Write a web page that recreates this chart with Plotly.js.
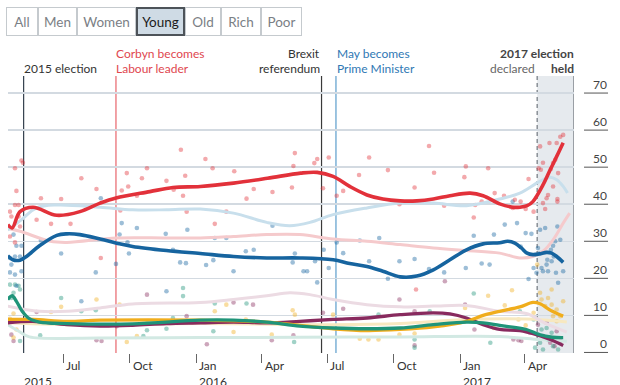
<!DOCTYPE html>
<html><head><meta charset="utf-8">
<script src="https://cdn.plot.ly/plotly-3.0.1.min.js"></script>
<style>html,body{margin:0;padding:0;background:#fff}#chart{width:620px;height:385px}</style>
</head><body><div id="chart"></div>
<script>
// ---------- trend lines (young voters) ----------
const labDates = ['2015-04-15','2015-04-21','2015-05-02','2015-05-20','2015-06-22','2015-07-24','2015-08-21','2015-09-12','2015-10-29','2015-11-30','2016-01-07','2016-02-22','2016-04-09','2016-05-25','2016-06-17','2016-07-09','2016-08-01','2016-08-25','2016-09-16','2016-10-10','2016-11-02','2016-11-25','2016-12-18','2017-01-15','2017-02-02','2017-02-25','2017-03-15','2017-03-25','2017-04-04','2017-04-12','2017-04-26','2017-05-06','2017-05-15','2017-05-24'];
const labVals = [34.5,33.6,38,39.2,37,38,40.3,41.7,43.4,44.5,44.8,45.7,47,48.4,48.6,47.5,44.8,42.5,41.4,40.9,40.9,41.4,42.3,43,42.3,40.1,39.2,39.2,39.6,40.7,45.2,49.3,52.9,56.6];

const conDates = ['2015-04-15','2015-04-22','2015-05-02','2015-05-11','2015-05-29','2015-06-22','2015-07-06','2015-07-24','2015-08-21','2015-09-13','2015-10-05','2015-11-21','2016-01-07','2016-02-22','2016-04-08','2016-05-24','2016-07-09','2016-08-01','2016-08-25','2016-09-16','2016-10-10','2016-11-02','2016-11-25','2016-12-18','2017-01-10','2017-02-02','2017-02-25','2017-03-08','2017-03-18','2017-03-27','2017-04-04','2017-04-12','2017-04-21','2017-05-01','2017-05-08','2017-05-15','2017-05-24'];
const conVals = [26.1,25,24.9,25.9,28.8,31.6,32,31.8,30.6,29.5,28.6,27.5,26.7,25.9,25.5,25.5,25,24,23.2,21.9,20.4,20.6,22.3,25,27.7,29.3,29.6,30,29.5,28.2,26.8,26.4,26.6,27,26.8,25.9,24.3];

const ldDates = ['2015-04-15','2015-05-20','2015-07-06','2015-08-21','2016-01-07','2016-04-08','2016-05-24','2016-07-09','2016-08-25','2016-10-10','2016-11-25','2017-01-10','2017-02-02','2017-02-25','2017-03-25','2017-04-12','2017-04-21','2017-05-09','2017-05-24'];
const ldVals = [8.9,8.9,8.4,8.7,8.7,8.2,7.3,6.4,5.9,6.2,6.9,8.4,10,11.1,12.3,13.5,13.2,11.1,9.8];

const grnDates = ['2015-04-15','2015-04-21','2015-04-27','2015-05-05','2015-05-15','2015-05-29','2015-07-06','2015-10-05','2016-01-07','2016-02-22','2016-04-08','2016-05-24','2016-07-09','2016-08-25','2016-10-10','2016-11-25','2017-01-10','2017-02-02','2017-02-25','2017-04-03','2017-04-21','2017-05-09','2017-05-24'];
const grnVals = [14.3,15.3,13.8,11.1,9.1,8.2,7.8,7.7,8.7,8.7,8.2,7.1,6.6,6.4,6.6,7.5,8.2,8,7.3,6.2,4.8,4.1,4];

const ukipDates = ['2015-04-15','2015-05-20','2015-07-06','2015-08-21','2015-10-05','2015-11-21','2016-01-07','2016-02-22','2016-04-08','2016-05-24','2016-07-09','2016-08-25','2016-10-10','2016-11-25','2016-12-18','2017-01-10','2017-02-02','2017-02-25','2017-03-25','2017-04-17','2017-05-06','2017-05-24'];
const ukipVals = [8,8.4,7.5,7.1,7.3,7.8,8,8.2,8,8.4,8.9,9.3,10.2,10.7,10.4,9.3,7.5,6.2,5.9,4.8,3.5,1.9];

// ---------- faded trend lines (all voters) ----------
const conAllDates = ['2015-04-15','2015-05-02','2015-05-25','2015-06-22','2015-08-21','2015-10-05','2015-11-21','2016-01-07','2016-02-22','2016-04-08','2016-05-10','2016-06-07','2016-07-09','2016-08-25','2016-10-10','2016-11-25','2017-01-10','2017-02-25','2017-03-25','2017-04-21','2017-05-06','2017-05-15','2017-05-24','2017-05-30'];
const conAllVals = [33,35.5,39,39.8,39.2,38.5,38.5,38.7,37.6,35.1,34.2,35.1,37.2,39,40.3,40.3,39.6,41.4,43,46.1,47.3,46.6,44.8,43];
const labAllDates = ['2015-04-15','2015-05-02','2015-06-13','2015-07-06','2015-09-13','2015-11-21','2016-01-07','2016-02-22','2016-04-08','2016-05-24','2016-07-09','2016-08-25','2016-10-10','2016-11-25','2017-01-10','2017-02-25','2017-03-25','2017-04-12','2017-04-26','2017-05-10','2017-05-24','2017-06-02'];
const labAllVals = [33.5,32.7,30,29.7,30.9,30.9,30.9,31.3,31.8,31.8,30.6,30,29.1,28.2,27.5,26.8,25.5,25.9,27.3,30.4,34.9,37.6];
const ukipAllDates = ['2015-04-15','2015-05-29','2015-07-06','2015-08-21','2015-10-05','2016-01-07','2016-02-22','2016-04-08','2016-05-10','2016-06-07','2016-07-09','2016-08-25','2016-10-10','2016-11-25','2017-01-10','2017-02-25','2017-04-03','2017-04-28','2017-05-29'];
const ukipAllVals = [12.5,11.1,11.1,12,13.1,13.5,14.3,15.3,16.1,15.6,14.3,12.9,12.3,12.5,12.7,11.1,10.5,8,5.5];
const ldAllDates = ['2015-04-15','2015-07-06','2016-01-07','2016-07-09','2016-10-10','2017-01-10','2017-04-03','2017-05-29'];
const ldAllVals = [8,7.5,7.8,7.5,7.8,8.9,9,8.2];
const grnAllDates = ['2015-04-15','2015-05-02','2015-05-15','2015-08-21','2016-01-07','2016-05-24','2016-10-10','2017-02-25','2017-04-21','2017-05-29'];
const grnAllVals = [7.5,5.5,4.2,3.9,4,4.1,4.2,4.3,3.5,3];

// ---------- individual polls (day = days after 1 July 2015) ----------
const labPollDay = [-67,-58,-56,-65,-67,-62,-74,-72,-62,-60,-74,-67,-37,-31,-17,-3,10,25,46,52,81,88,90,79,102,109,116,143,153,163,166,169,171,197,207,210,226,237,254,264,290,317,319,321,348,352,360,368,379,388,410,424,450,466,487,489,507,514,528,556,558,569,571,580,589,598,611,626,623,634,641,645,652,659,662,665,668,670,674,676,679,685,685,684,689,693,682,672,665,661,686,679];
const labPollVal = [49.7,51.8,51.2,43.6,39.8,39.8,38,36.7,36.7,34,31.3,29.7,35.8,41.6,34.7,41.4,34.7,47,44.1,25.5,43.7,48.4,44.8,38.3,42.3,47,49.7,46.3,43.9,54.7,42.3,47.7,38,52.2,49.7,34.7,38,48.9,41.5,44.1,43.3,44.5,50.3,53.8,51.1,52.2,44.3,52.6,42.3,43.6,47.9,52.6,49.2,40,44.5,17,55.7,48.5,39.6,47.3,50.2,36.4,39.8,40.7,49.7,43,42.3,41.2,39,40.7,38.7,46.8,38,49.7,49.3,51.2,38.7,41.6,56.5,49.5,44.8,41.4,40.7,56.5,58.2,58.7,52,42.5,40.3,55.6,48.4,51.1];

const conPollDay = [-69,-65,-58,-74,-67,-60,-72,-58,-74,-67,-65,-3,-31,25,45,52,73,78,81,89,91,102,142,152,143,162,170,172,198,208,210,226,236,253,264,290,318,321,333,338,349,352,361,368,379,388,411,424,438,450,466,487,507,528,558,569,580,591,597,612,623,629,634,641,645,649,652,656,658,661,663,668,670,672,676,679,682,683,685,686,689,693,661,665,671,677,680];
const conPollVal = [31.8,28.8,28.8,25.5,25.9,25.9,23.7,21.9,21.6,21,18,26.7,30.2,13.8,21.6,41.6,23.9,31.8,34.9,29.7,26.7,33.6,32,27.7,16.5,24.3,24.1,33.1,23.6,24.9,30.9,30.9,21.9,27.3,27.7,34.2,24.3,26.7,21.9,21.9,24.6,18.9,27.7,22.8,29.7,26.8,30.2,24.6,30.9,19.9,24.6,25.2,22.5,21.6,22.8,31.5,24,23.7,31.8,34.5,40.7,34.9,28.6,32.2,19.8,32,22.8,21.5,28.2,33.1,22.8,33.6,23.7,21.9,27.7,28.8,30,21.5,34,18.8,30.4,21.9,26.8,21.9,25,24.6,25.9];

const ldPollDay = [-69,-74,-65,-69,-3,-17,46,78,88,102,210,226,236,253,289,318,321,116,374,411,423,437,466,487,515,557,589,597,612,622,631,641,652,661,663,668,672,677,679,684,693,657,677,684,689];
const ldPollVal = [10.5,9.1,6.2,4,12.3,10.9,14.3,12.9,2.8,4.4,11.1,12.9,5.5,8.9,4.8,11.4,10.2,7.8,10.2,3.7,3.5,3.5,4.8,5.1,8,12,15.3,6.6,12.7,16.8,8.9,7.3,10.7,16.1,14.3,12.5,14.7,12.9,9.8,8.4,13.8,23.7,17,11.6,9.8];

const grnPollDay = [-74,-67,-62,-69,-60,-72,-3,25,45,166,166,210,254,320,152,208,-32,116,111,143,-60,437,487,487,508,569,592,633,652,658,661,665,672,679,686,670,677,654,663];
const grnPollVal = [18.3,18.3,18,16.1,17,14.7,14.7,11.1,11.4,17.4,15.2,13.2,13.2,2.8,9.3,5.7,4.6,6,4.4,6.4,3.1,10.2,1.3,3.5,11.1,15.9,2.6,11.1,8.9,4.8,2.6,0.8,3.5,1.7,0.8,6.6,5.3,1.3,6.2];

const ukipPollDay = [116,236,199,46,53,-37,-72,-69,289,319,171,263,74,466,529,487,557,570,487,624,631,635,647,665,675,681,689,658,670,684,360,388];
const ukipPollVal = [15.6,13.5,2.2,3.3,3.1,10.9,4.8,3.1,3.3,4.6,9.8,12.9,7.1,14.3,19.2,11.1,12.9,6.2,1.9,3.5,3.3,3.1,5.3,4.4,2.6,1.7,3.1,7.5,8,5.7,10.7,11.8];

// ---------- axes / labels ----------
const yTickVals = [0,10,20,30,40,50,60,70];
const xTickDates = ['2015-07-01','2015-10-01','2016-01-01','2016-04-01','2016-07-01','2016-10-01','2017-01-01','2017-04-01'];
const xTickText = ['Jul','Oct','Jan','Apr','Jul','Oct','Jan','Apr'];
const yearDates = ['2015-05-03','2016-01-01','2017-01-01'];
const yearText = ['2015','2016','2017'];
const buttonLabels = ['All','Men','Women','Young','Old','Rich','Poor'];
const buttonWidths = [32,39,59,49,36,40,41];
const activeButton = 'Young';

const dayToDate = d => new Date(Date.UTC(2015,6,1) + d*86400000).toISOString().slice(0,10);

const COL = {lab:'#e2313a', con:'#16649f', ld:'#f0ad1c', grn:'#1f9479', ukip:'#882a5e'};
const FADE = {lab:'#f5cacc', con:'#c8dfec', ld:'#f7e8c0', grn:'#d2e9e3', ukip:'#ecdbe3'};

const traces = [];
function dots(days, vals, color){
  traces.push({x: days.map(dayToDate), y: vals, type:'scatter', mode:'markers',
    marker:{size:4.6, color:color, opacity:0.42}, hoverinfo:'skip', cliponaxis:true});
}
function line(x, y, color, w){
  traces.push({x:x, y:y, type:'scatter', mode:'lines',
    line:{color:color, width:w, shape:'spline', smoothing:1}, hoverinfo:'skip'});
}
dots(ukipPollDay, ukipPollVal, COL.ukip);
dots(grnPollDay, grnPollVal, COL.grn);
dots(ldPollDay, ldPollVal, COL.ld);
dots(conPollDay, conPollVal, COL.con);
dots(labPollDay, labPollVal, COL.lab);
line(grnAllDates, grnAllVals, FADE.grn, 3);
line(ldAllDates, ldAllVals, FADE.ld, 3);
line(ukipAllDates, ukipAllVals, FADE.ukip, 3);
line(labAllDates, labAllVals, FADE.lab, 3);
line(conAllDates, conAllVals, FADE.con, 3);
line(ukipDates, ukipVals, COL.ukip, 3.3);
line(ldDates, ldVals, COL.ld, 3.3);
line(grnDates, grnVals, COL.grn, 3.3);
line(conDates, conVals, COL.con, 3.6);
line(labDates, labVals, COL.lab, 3.6);

const F = 'Lato, "Open Sans", sans-serif';
const shapes = [
  {type:'rect', xref:'x', yref:'paper', x0:'2017-04-18', x1:'2017-06-08', y0:0, y1:1, fillcolor:'#e6eaee', line:{width:0}, layer:'below'},
  {type:'line', xref:'x', yref:'paper', x0:'2015-05-07', x1:'2015-05-07', y0:0, y1:1, line:{color:'#34404e', width:1.2}, layer:'between'},
  {type:'line', xref:'x', yref:'paper', x0:'2015-09-12', x1:'2015-09-12', y0:0, y1:1, line:{color:'#e8646b', width:1.2}, layer:'between'},
  {type:'line', xref:'x', yref:'paper', x0:'2016-06-23', x1:'2016-06-23', y0:0, y1:1, line:{color:'#3a3a3a', width:1.2}, layer:'between'},
  {type:'line', xref:'x', yref:'paper', x0:'2016-07-13', x1:'2016-07-13', y0:0, y1:1, line:{color:'#5b9dcc', width:1.2}, layer:'between'},
  {type:'line', xref:'x', yref:'paper', x0:'2017-04-18', x1:'2017-04-18', y0:0, y1:1, line:{color:'#8a9096', width:1.5, dash:'4px,3px'}, layer:'between'},
  {type:'line', xref:'x', yref:'paper', x0:'2017-06-08', x1:'2017-06-08', y0:0, y1:1, line:{color:'#80868c', width:1.5}, layer:'between'}
];
yTickVals.forEach(v => shapes.push({type:'line', xref:'paper', yref:'y', x0:1.0177, x1:1.0601, y0:v, y1:v, line:{color:'#555', width:1}}));

const annotations = [];
function txt(text, x, xanchor, yshift, color, bold, xshift){
  annotations.push({text: bold ? '<b>'+text+'</b>' : text, x:x, xref:'x', y:1, yref:'paper', xanchor:xanchor, yanchor:'middle',
    yshift:yshift, xshift:xshift||0, borderpad:0, showarrow:false, font:{family:F, size:12, color:color}});
}
const L1 = 23, L2 = 7.5;
txt('2015 election', '2015-05-07', 'left', L2, '#333', false, -1);
txt('Corbyn becomes', '2015-09-12', 'left', L1, '#e0474f', false, -1);
txt('Labour leader', '2015-09-12', 'left', L2, '#e0474f', false, -1);
txt('Brexit', '2016-06-23', 'right', L1, '#333', false, -1);
txt('referendum', '2016-06-23', 'right', L2, '#333', false, -1);
txt('May becomes', '2016-07-13', 'left', L1, '#2f78b4', false, 0);
txt('Prime Minister', '2016-07-13', 'left', L2, '#2f78b4', false, 0);
txt('2017 election', '2017-06-08', 'right', L1, '#444', true, 1);
txt('declared', '2017-04-18', 'right', L2, '#666', false, -1);
txt('held', '2017-06-08', 'right', L2, '#444', true, 1);

yTickVals.forEach(v => annotations.push({text:String(v), x:1, xref:'paper', xanchor:'right', xshift:34,
  y:v, yref:'y', yanchor:'bottom', yshift:0, borderpad:0, showarrow:false, font:{family:F, size:12, color:'#444'}}));
xTickDates.forEach((d,i) => annotations.push({text:xTickText[i], x:d, xref:'x', xanchor:'left', xshift:1,
  y:0, yref:'paper', yanchor:'middle', yshift:-12, showarrow:false, font:{family:F, size:12, color:'#333'}}));
yearDates.forEach((d,i) => annotations.push({text:yearText[i], x:d, xref:'x', xanchor:'left', xshift:1,
  y:0, yref:'paper', yanchor:'top', yshift:-19, showarrow:false, font:{family:F, size:12, color:'#333'}}));

let left = 6;
const btns = [];
buttonLabels.forEach((b,i) => {
  const active = b === activeButton;
  const bw = active ? 2 : 1;
  btns.push({text:b, x:0, xref:'paper', xanchor:'left', xshift:left-8, y:1, yref:'paper', yanchor:'middle', yshift:55,
    width:buttonWidths[i]-2*bw, height:29-2*bw, borderpad:0, borderwidth:bw,
    bordercolor: active ? '#4d5359' : '#c5cace', bgcolor: active ? '#cfdbe5' : '#ffffff',
    showarrow:false, font:{family:F, size:13.5, color: active ? '#1a1a1a' : '#7b8085'}, _active:active});
  left += buttonWidths[i];
});
btns.sort((a,b) => a._active - b._active).forEach(b => { delete b._active; annotations.push(b); });

const layout = {
  width:620, height:385, margin:{l:8, r:46, t:76, b:32},
  paper_bgcolor:'#fff', plot_bgcolor:'rgba(0,0,0,0)', showlegend:false,
  xaxis:{type:'date', range:['2015-04-15 08:00','2017-06-08'], showgrid:false, zeroline:false, showline:false,
    ticks:'outside', ticklen:9, tickwidth:1, tickcolor:'#666', tickmode:'array', tickvals:xTickDates, showticklabels:false},
  yaxis:{range:[-0.15,74.6], tickmode:'array', tickvals:yTickVals, showgrid:true, gridcolor:'#d3dae1', gridwidth:1.5,
    zeroline:false, showline:false, showticklabels:false, ticks:''},
  shapes:shapes, annotations:annotations, font:{family:F}
};
Plotly.newPlot('chart', traces, layout, {staticPlot:true, displayModeBar:false});
</script></body></html>
